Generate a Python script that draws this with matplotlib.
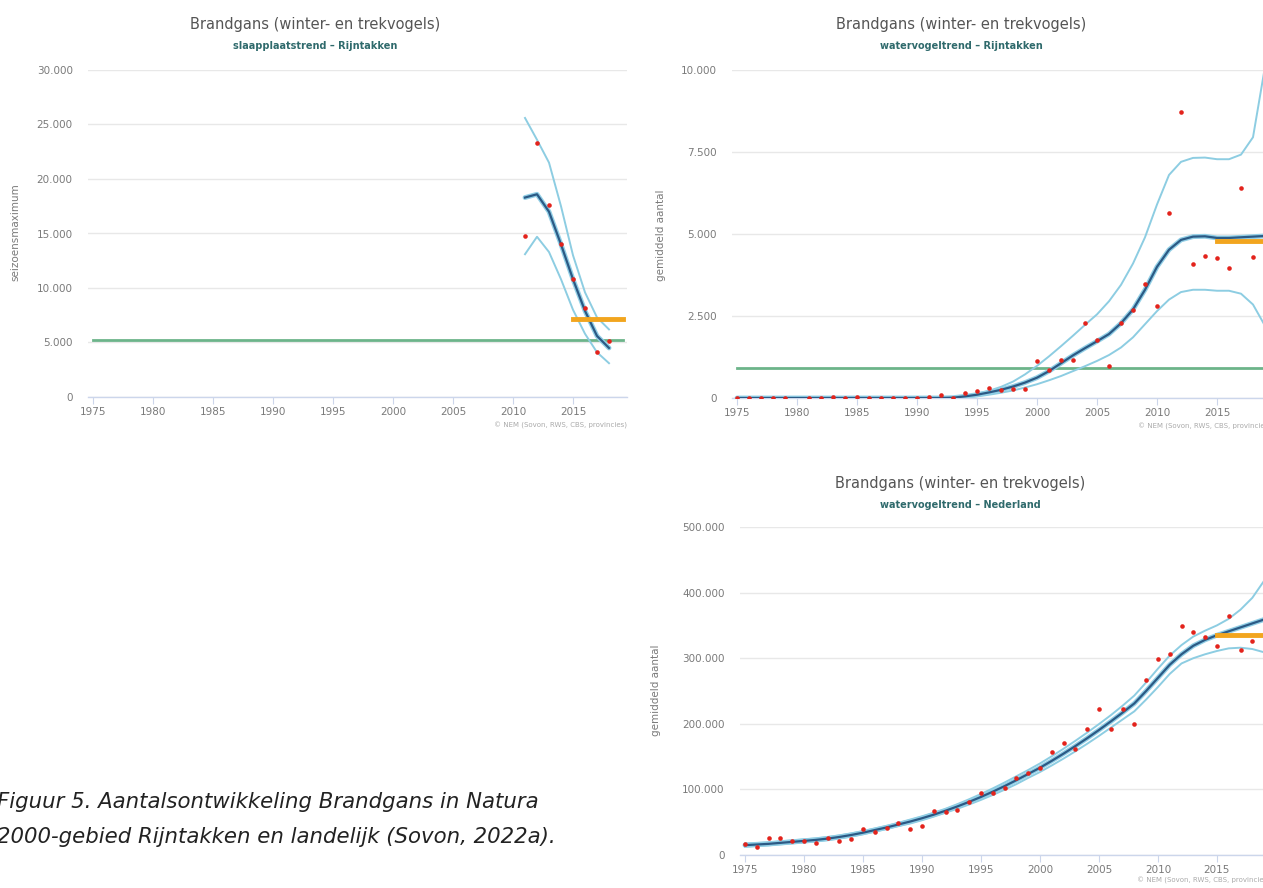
import matplotlib
matplotlib.use('Agg')
import matplotlib.pyplot as plt
from matplotlib.ticker import FuncFormatter

W, H = 1263, 888  # 픽셀 크기

# 데이터 - 그래프 1 (slaapplaatstrend - Rijntakken)
jaren1 = [2011, 2012, 2013, 2014, 2015, 2016, 2017, 2018]
punten1 = [14800, 23300, 17600, 14000, 10800, 8200, 4100, 5100]
trend1 = [18300, 18600, 17000, 14000, 10800, 7900, 5600, 4500]
boven1 = [25600, 23600, 21500, 17500, 13000, 9600, 7300, 6200]
onder1 = [13100, 14700, 13300, 10800, 8000, 5800, 4100, 3100]
norm1 = 5200
oranje1 = 7150

# 데이터 - 그래프 2 (watervogeltrend - Rijntakken)
jaren2 = list(range(1975, 2020))
punt_jaren2 = [1975, 1976, 1977, 1978, 1979, 1981, 1982, 1983, 1984, 1985, 1986, 1987,
               1988, 1989, 1990, 1991, 1992, 1993, 1994, 1995, 1996, 1997, 1998, 1999,
               2000, 2001, 2002, 2003, 2004, 2005, 2006, 2007, 2008, 2009, 2010, 2011,
               2012, 2013, 2014, 2015, 2016, 2017, 2018, 2019]
punten2 = [0, 0, 0, 0, 0, 0, 0, 40, 0, 40, 0, 0,
           0, 0, 0, 30, 80, 0, 150, 200, 300, 230, 270, 270,
           1120, 860, 1150, 1150, 2280, 1770, 980, 2280, 2670, 3480, 2790, 5640,
           8730, 4100, 4330, 4270, 3960, 6400, 4300, 5030]
trend2 = [0] * 18 + [10, 50, 100, 170, 250, 350, 470, 620, 820, 1060, 1300, 1520,
                     1730, 1950, 2280, 2700, 3300, 4000, 4520, 4820, 4920, 4930, 4880,
                     4880, 4900, 4920, 4940]
boven2 = [0] * 18 + [20, 60, 130, 220, 340, 500, 720, 980, 1270, 1580, 1900, 2230,
                     2550, 2950, 3450, 4100, 4900, 5900, 6800, 7200, 7320, 7330, 7280,
                     7280, 7420, 7950, 10100]
onder2 = [0] * 18 + [0, 20, 50, 100, 160, 230, 320, 420, 540, 670, 820, 970,
                     1130, 1310, 1540, 1850, 2250, 2650, 3000, 3230, 3300, 3300, 3270,
                     3270, 3180, 2850, 2200]
norm2 = 920
oranje2 = 4800

# 데이터 - 그래프 3 (watervogeltrend - Nederland)
jaren3 = list(range(1975, 2020))
punt_jaren3 = list(range(1975, 2019))
punten3 = [16700, 12700, 25400, 25400, 22000, 22000, 18800, 26000, 21800, 24400,
           39600, 35000, 40600, 49200, 39100, 44200, 67500, 66000, 68500, 81200,
           93900, 95000, 101500, 116700, 125400, 132000, 157400, 170000, 160900, 191400,
           221800, 191400, 221800, 199500, 266500, 299500, 307100, 349200, 340100, 332500,
           318800, 363900, 313200, 325900]
trend3 = [15000, 16000, 17000, 18500, 20000, 21500, 23000, 25000, 27500, 30500,
          34000, 38000, 42000, 46500, 51000, 56000, 61500, 67500, 74000, 81000,
          88500, 96500, 105000, 114000, 123500, 133000, 143500, 154500, 166000, 178000,
          190500, 203500, 217000, 231000, 250000, 270000, 290000, 306000, 319000, 328000,
          335000, 341000, 347000, 353000, 359000]
boven3 = [17500, 18500, 19500, 21000, 22500, 24000, 25500, 27500, 30000, 33000,
          36500, 40500, 44500, 49000, 54000, 59000, 64500, 70500, 77500, 85000,
          93000, 101500, 110500, 120000, 129500, 139500, 150500, 162000, 174000, 186500,
          199500, 213000, 227500, 243000, 263000, 284000, 304000, 320000, 333000, 342000,
          350000, 360000, 374000, 392000, 418000]
onder3 = [12500, 13500, 14500, 16000, 17500, 19000, 20500, 22500, 25000, 28000,
          31500, 35500, 39500, 44000, 48000, 53000, 58500, 64500, 70500, 77000,
          84000, 91500, 99500, 108000, 117500, 126500, 136500, 147000, 158000, 169500,
          181500, 194000, 206500, 219000, 237000, 256000, 276000, 292000, 300000, 306000,
          311000, 315000, 316000, 314000, 309000]
oranje3 = 335000

titel = 'Brandgans (winter- en trekvogels)'
credits = '© NEM (Sovon, RWS, CBS, provincies)'

# 색상
c_grid = '#e8e8e8'
c_tekst = '#7a7a7a'
c_trend = '#2b5a85'
c_halo = '#92cfe6'
c_ci = '#8dcde2'
c_punt = '#e3231c'
c_groen = '#6cb48a'
c_oranje = '#f2a51e'

plt.rcParams['font.family'] = ['DejaVu Sans']

fig = plt.figure(figsize=(W / 100, H / 100), dpi=100)
fig.patch.set_facecolor('white')


def px_box(left, top, width, height):
    return [left / W, 1 - (top + height) / H, width / W, height / H]


def dot_fmt(v, pos):
    return f'{int(v):,}'.replace(',', '.')


def maak_as(box, ymax, ystap, yticks_pad):
    ax = fig.add_axes(box)
    ax.set_xlim(1974.58, 2019.5)
    ax.set_ylim(0, ymax)
    for s in ['left', 'right', 'top']:
        ax.spines[s].set_visible(False)
    ax.spines['bottom'].set_color('#ccd6eb')
    ax.spines['bottom'].set_linewidth(1)
    ax.set_xticks(range(1975, 2020, 5))
    ax.set_yticks(range(0, ymax + 1, ystap))
    ax.yaxis.set_major_formatter(FuncFormatter(dot_fmt))
    ax.tick_params(axis='y', length=0, pad=yticks_pad, labelsize=7.5, labelcolor=c_tekst)
    ax.tick_params(axis='x', length=5, color='#ccd6eb', pad=2, labelsize=7.5, labelcolor=c_tekst)
    ax.yaxis.grid(True, color=c_grid, lw=1)
    ax.set_axisbelow(True)
    return ax


def teken(ax, jaren, trend, boven, onder, pjaren, punten, oranje, norm=None):
    if norm is not None:
        ax.plot([1975, 2019.2], [norm, norm], color=c_groen, lw=2, zorder=2)
    ax.plot(jaren, boven, color=c_ci, lw=1.4, zorder=3)
    ax.plot(jaren, onder, color=c_ci, lw=1.4, zorder=3)
    ax.plot(jaren, trend, color=c_halo, lw=3.5, zorder=4, solid_capstyle='round')
    ax.plot(jaren, trend, color=c_trend, lw=1.6, zorder=5)
    ax.plot([2015, 2019.2], [oranje, oranje], color=c_oranje, lw=3.5, zorder=6)
    ax.plot(pjaren, punten, 'o', color=c_punt, ms=3.3, mec='none', zorder=7)


# 그래프 1
ax1 = maak_as(px_box(88, 70, 539, 327), 30000, 5000, 11)
teken(ax1, jaren1, trend1, boven1, onder1, jaren1, punten1, oranje1, norm1)

# 그래프 2
ax2 = maak_as(px_box(732, 70, 539, 328), 10000, 2500, 11)
teken(ax2, jaren2, trend2, boven2, onder2, punt_jaren2, punten2, oranje2, norm2)

# 그래프 3
ax3 = maak_as(px_box(740, 527, 530, 328), 500000, 100000, 11)
teken(ax3, jaren3, trend3, boven3, onder3, punt_jaren3, punten3, oranje3)

# 제목들
for cx, ty, sub in [(315, 24, 'slaapplaatstrend – Rijntakken'),
                    (961, 24, 'watervogeltrend – Rijntakken'),
                    (960, 483, 'watervogeltrend – Nederland')]:
    fig.text(cx / W, 1 - ty / H, titel, ha='center', va='center', fontsize=10.5, color='#555555')
    fig.text(cx / W, 1 - (ty + 22) / H, sub, ha='center', va='center', fontsize=7,
             color='#2f6a6c', fontweight='bold')

# y축 라벨
fig.text(15 / W, 1 - 232 / H, 'seizoensmaximum', rotation=90, ha='center', va='center',
         fontsize=7.5, color=c_tekst)
fig.text(661 / W, 1 - 235 / H, 'gemiddeld aantal', rotation=90, ha='center', va='center',
         fontsize=7.5, color=c_tekst)
fig.text(656 / W, 1 - 690 / H, 'gemiddeld aantal', rotation=90, ha='center', va='center',
         fontsize=7.5, color=c_tekst)

# 출처
fig.text(627 / W, 1 - 425 / H, credits, ha='right', va='center', fontsize=5, color='#aaaaaa')
fig.text(1271 / W, 1 - 426 / H, credits, ha='right', va='center', fontsize=5, color='#aaaaaa')
fig.text(1270 / W, 1 - 880 / H, credits, ha='right', va='center', fontsize=5, color='#aaaaaa')

# 캡션
fig.text(-3 / W, 1 - 802 / H, 'Figuur 5. Aantalsontwikkeling Brandgans in Natura',
         ha='left', va='center', fontsize=15.3, style='italic', color='#222222')
fig.text(-3 / W, 1 - 837 / H, '2000-gebied Rijntakken en landelijk (Sovon, 2022a).',
         ha='left', va='center', fontsize=15.3, style='italic', color='#222222')

fig.savefig('out.png', dpi=100)
